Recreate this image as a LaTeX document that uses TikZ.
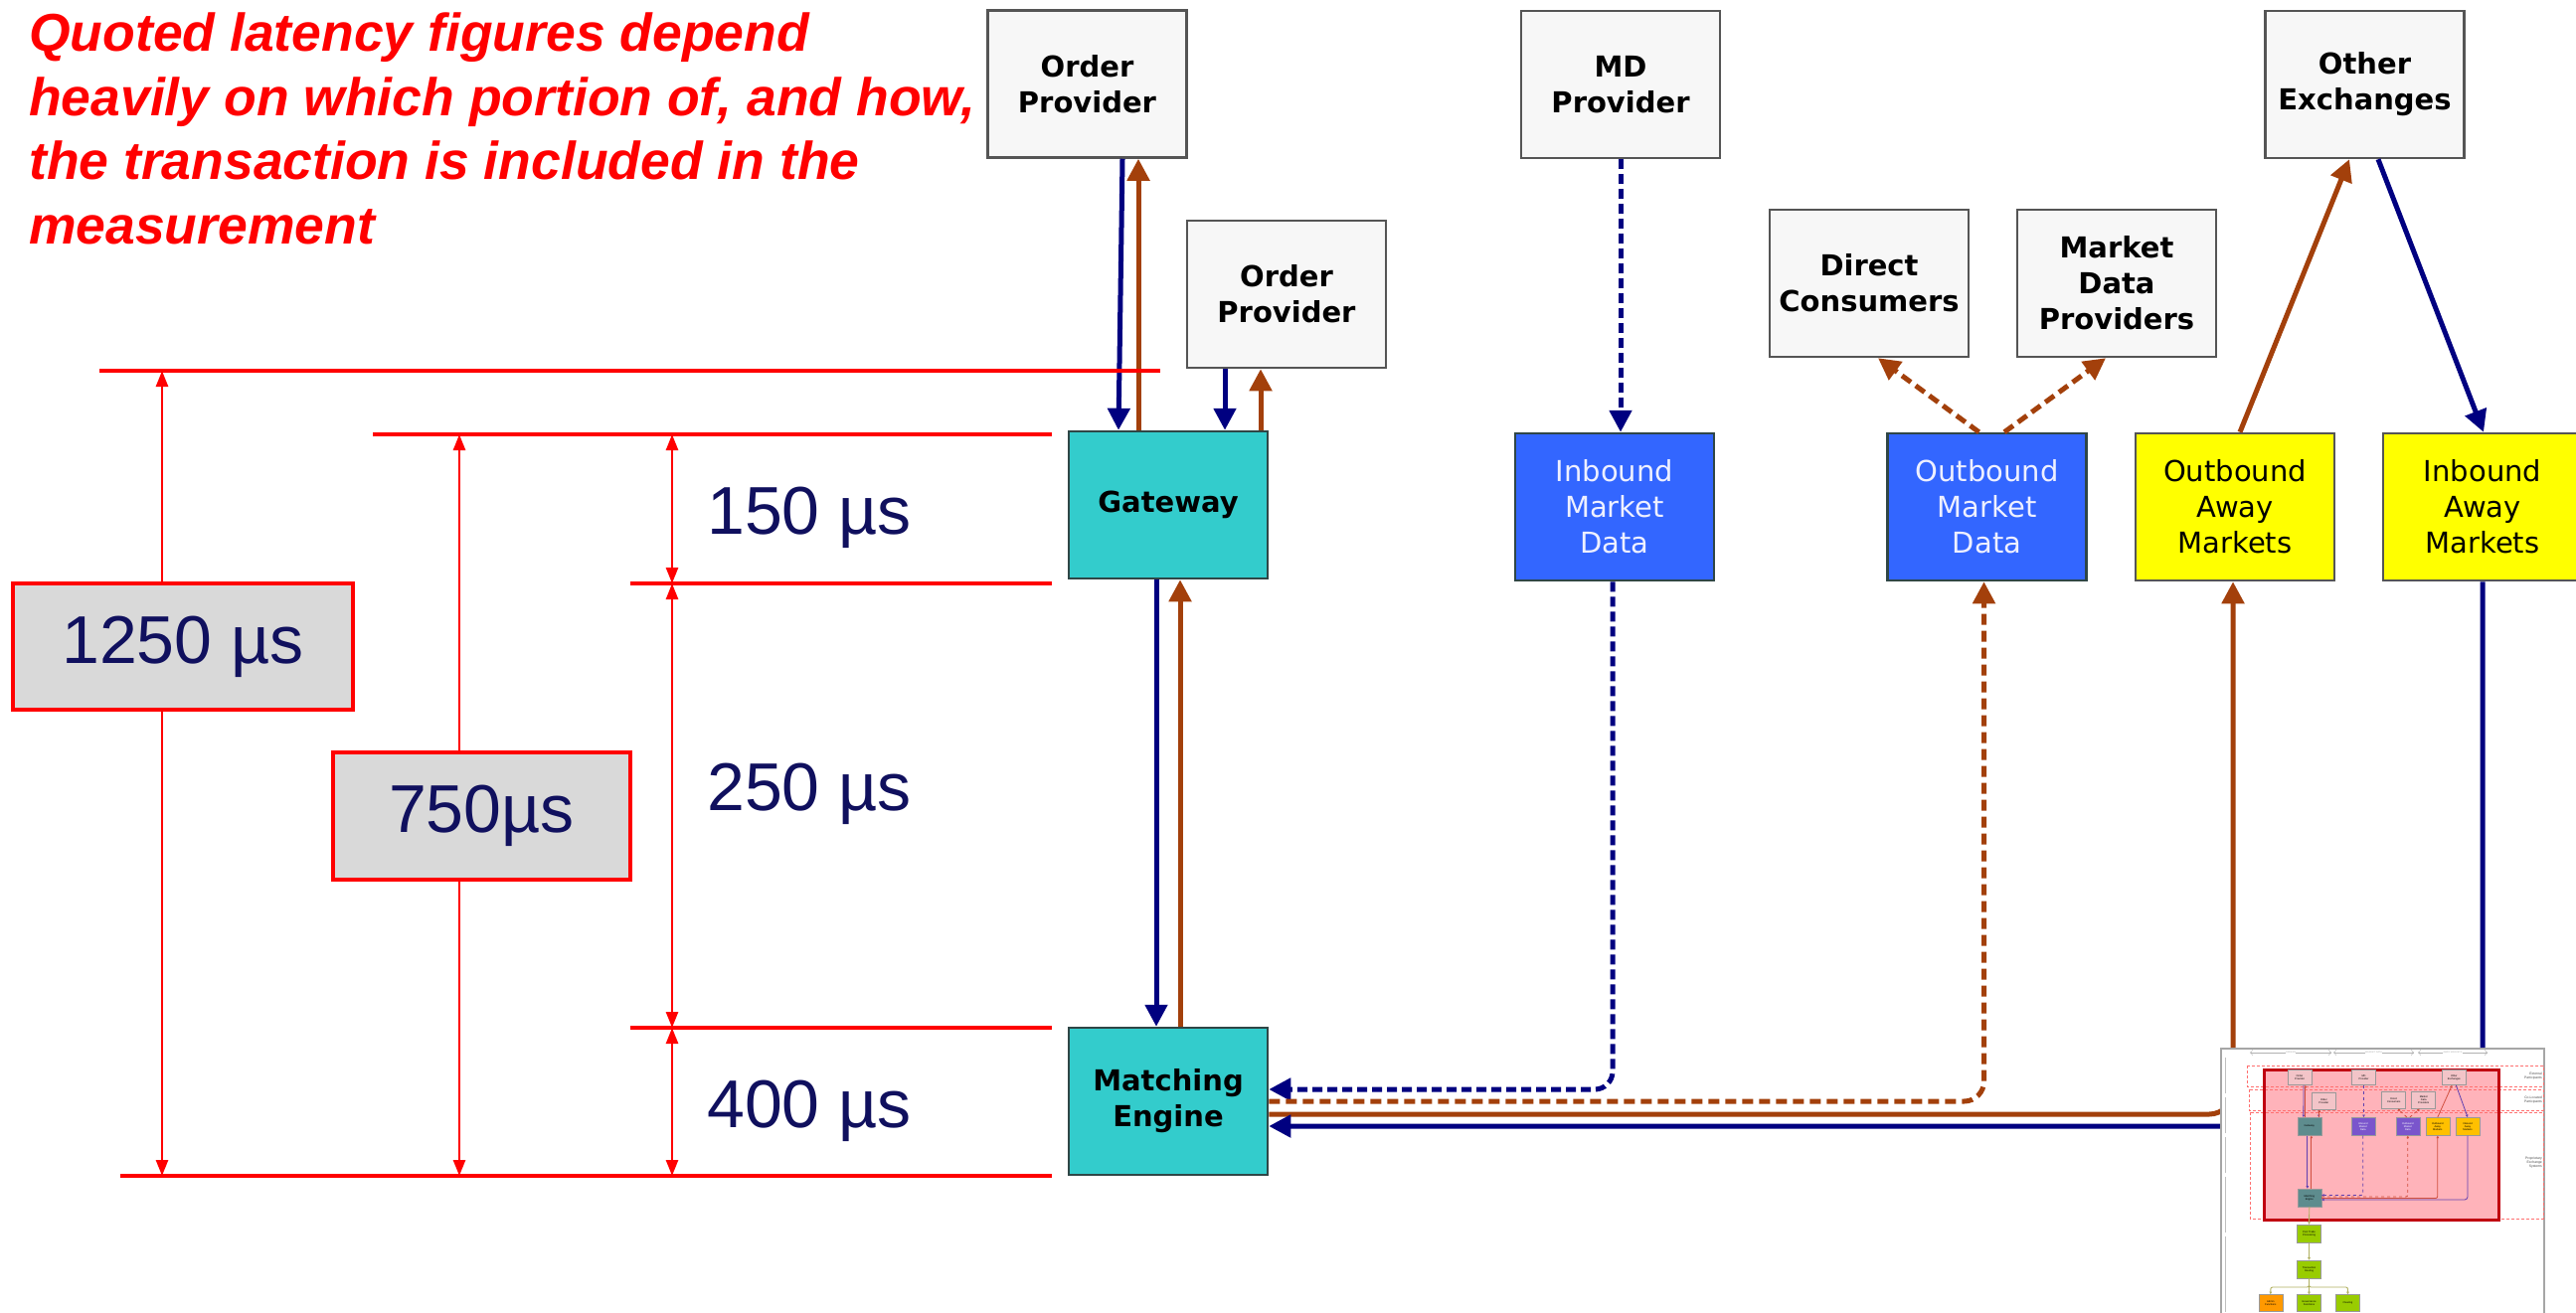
\documentclass[tikz,border=0pt]{standalone}
\usepackage{fontspec}
\setmainfont{Liberation Sans}
\newfontfamily\dvfont{DejaVu Sans}
\usetikzlibrary{arrows.meta}
\definecolor{navyc}{HTML}{000080}
\definecolor{brownc}{HTML}{A3400B}
\definecolor{boxgray}{HTML}{F7F7F7}
\definecolor{boxedge}{HTML}{555555}
\definecolor{darkedge}{HTML}{2F4646}
\definecolor{tealc}{HTML}{33CCCC}
\definecolor{bluebox}{HTML}{3366FF}
\definecolor{yellowc}{HTML}{FFFF00}
\definecolor{dimred}{HTML}{FF0000}
\definecolor{dimtext}{HTML}{10105E}
\definecolor{dimfill}{HTML}{D9D9D9}
\definecolor{lighttext}{HTML}{EEF0FF}
\definecolor{thpink}{HTML}{FFB3BA}
\definecolor{thred}{HTML}{C00010}
\definecolor{thdash}{HTML}{FF7070}
\definecolor{thgraybox}{HTML}{F3C4C8}
\definecolor{thteal}{HTML}{5E8C8E}
\definecolor{thpurple}{HTML}{7A55CC}
\definecolor{thorange}{HTML}{FFC000}
\definecolor{thgreen}{HTML}{99CC00}
\definecolor{thadmin}{HTML}{FF9900}
\definecolor{thline}{HTML}{6040B0}
\definecolor{thbrown}{HTML}{D05040}
\definecolor{tholive}{HTML}{B0B060}
\tikzset{
 fbox/.style={draw=boxedge, line width=2.5pt, minimum width=200pt, minimum height=148pt, inner sep=0pt, align=center},
 graybox/.style={fbox, fill=boxgray, font=\dvfont\bfseries\fontsize{29}{36}\selectfont},
 tealbox/.style={fbox, draw=darkedge, fill=tealc, font=\dvfont\bfseries\fontsize{29}{36}\selectfont},
 bluebx/.style={fbox, draw=darkedge, fill=bluebox, text=lighttext, font=\dvfont\fontsize{29}{36}\selectfont},
 yellowbx/.style={fbox, fill=yellowc, font=\dvfont\fontsize{29}{36}\selectfont},
 tip/.style={-{Triangle[length=22pt,width=22pt]}},
 navyarrow/.style={draw=navyc, line width=5pt, tip},
 brownarrow/.style={draw=brownc, line width=5pt, tip},
 navydash/.style={navyarrow, dash pattern=on 10pt off 5pt},
 browndash/.style={brownarrow, dash pattern=on 11pt off 6pt},
 dimline/.style={draw=dimred, line width=4pt},
 dimone/.style={draw=dimred, line width=2.5pt, -{Triangle[length=16pt,width=12pt]}},
 dimtwo/.style={draw=dimred, line width=2.5pt, {Triangle[length=16pt,width=12pt]}-{Triangle[length=16pt,width=12pt]}},
 dimbox/.style={draw=dimred, line width=3.5pt, fill=dimfill, text=dimtext, inner sep=0pt, font=\fontsize{68}{80}\selectfont},
 dimlabel/.style={text=dimtext, inner sep=0pt, anchor=base, font=\fontsize{68}{80}\selectfont},
 tb/.style={draw=gray!80, line width=0.6pt, minimum width=24pt, minimum height=17pt, inner sep=0pt, align=center, font=\fontsize{2.6}{3.1}\selectfont},
 tl/.style={draw=thline, line width=0.8pt, -{Triangle[length=2.5pt,width=2.5pt]}},
 tlb/.style={draw=thbrown, line width=0.8pt, -{Triangle[length=2.5pt,width=2.5pt]}},
 tlo/.style={draw=tholive, line width=0.9pt, -{Triangle[length=2.5pt,width=2.5pt]}},
 tlab/.style={font=\fontsize{3.4}{4}\selectfont, text=gray!60!black, inner sep=0pt, align=right, anchor=east},
}
\begin{document}
\begin{tikzpicture}[x=1pt, y=-1pt]
\useasboundingbox (0,0) rectangle (2591,1320);
\clip (0,0) rectangle (2591,1320);
\fill[white] (0,0) rectangle (2591,1320);

% title
\node[anchor=north west, align=left, inner sep=0pt, text=dimred,
      font=\bfseries\itshape\fontsize{53.5}{64.5}\selectfont] (title) at (29,13)
  {Quoted latency figures depend\\heavily on which portion of, and how,\\the transaction is included in the\\measurement};

% boxes
\node[graybox] (op1) at (1093.5,84.5) {Order\\Provider};
\node[graybox] (op2) at (1294,296) {Order\\Provider};
\node[graybox] (mdp) at (1630,85) {MD\\Provider};
\node[graybox] (dc) at (1880,285) {Direct\\Consumers};
\node[graybox] (mdprov) at (2129,285) {Market\\Data\\Providers};
\node[graybox] (oe) at (2378.5,85) {Other\\Exchanges};
\node[tealbox] (gw) at (1175,508) {Gateway};
\node[bluebx] (imd) at (1624,510) {Inbound\\Market\\Data};
\node[bluebx] (omd) at (1998.5,510) {Outbound\\Market\\Data};
\node[yellowbx] (oam) at (2248,510) {Outbound\\Away\\Markets};
\node[yellowbx] (iam) at (2497,510) {Inbound\\Away\\Markets};
\node[tealbox] (me) at (1175,1108) {Matching\\Engine};

% connectors
\draw[navyarrow] ([xshift=35.5pt]op1.south) -- ([xshift=-50pt]gw.north);
\draw[brownarrow] ([xshift=-30pt]gw.north) -- ([xshift=-30pt]gw.north |- op1.south);
\draw[navyarrow] ([xshift=-62pt]op2.south) -- ([xshift=-62pt]op2.south |- gw.north);
\draw[brownarrow] ([xshift=93pt]gw.north) -- ([xshift=93pt]gw.north |- op2.south);
\draw[navyarrow] ([xshift=-12pt]gw.south) -- ([xshift=-12pt]gw.south |- me.north);
\draw[brownarrow] ([xshift=12pt]me.north) -- ([xshift=12pt]me.north |- gw.south);
\draw[navydash] (mdp.south) -- (mdp.south |- imd.north);
\draw[navydash, rounded corners=18pt] ([xshift=-2pt]imd.south) |- ([yshift=12pt]me.east);
\draw[browndash, rounded corners=20pt] (me.east) -| ([xshift=-3pt]omd.south);
\draw[browndash] ([xshift=-8pt]omd.north) -- ([xshift=9pt]dc.south);
\draw[browndash] ([xshift=17.5pt]omd.north) -- ([xshift=-11pt]mdprov.south);
\draw[brownarrow, rounded corners=24pt] ([yshift=-13pt]me.east) -| ([xshift=-2pt]oam.south);
\draw[navyarrow, rounded corners=24pt] (iam.south) |- ([yshift=-25pt]me.east);
\draw[brownarrow] ([xshift=5pt]oam.north) -- ([xshift=-15.5pt]oe.south);
\draw[navyarrow] ([xshift=13.5pt]oe.south) -- ([xshift=1pt]iam.north);

% dimension lines
\coordinate (h1l) at (100,373);  \coordinate (h1r) at (1167,373);
\coordinate (h2l) at (375,437);  \coordinate (h2r) at (1058,437);
\coordinate (h3l) at (634,587);  \coordinate (h3r) at (1058,587);
\coordinate (h4l) at (634,1034); \coordinate (h4r) at (1058,1034);
\coordinate (h5l) at (121,1183); \coordinate (h5r) at (1058,1183);
\coordinate (ca) at (163,0); \coordinate (cb) at (462,0); \coordinate (cc) at (676,0);
\draw[dimline] (h1l) -- (h1r);
\draw[dimline] (h2l) -- (h2r);
\draw[dimline] (h3l) -- (h3r);
\draw[dimline] (h4l) -- (h4r);
\draw[dimline] (h5l) -- (h5r);

\node[dimbox, minimum width=342pt, minimum height=127pt] (b1250) at (184,650.5) {1250 µs};
\node[dimbox, minimum width=299pt, minimum height=128pt] (b750) at (484.5,821) {750µs};
\draw[dimone] (b1250.north -| ca) -- (h1l -| ca);
\draw[dimone] (b1250.south -| ca) -- (h5l -| ca);
\draw[dimone] (b750.north -| cb) -- (h2l -| cb);
\draw[dimone] (b750.south -| cb) -- (h5l -| cb);
\draw[dimtwo] (h2l -| cc) -- (h3l -| cc);
\draw[dimtwo] (h3l -| cc) -- (h4l -| cc);
\draw[dimtwo] (h4l -| cc) -- (h5l -| cc);
\node[dimlabel] (l150) at (814,537) {150 µs};
\node[dimlabel] (l250) at (814,815) {250 µs};
\node[dimlabel] (l400) at (814,1134) {400 µs};

% thumbnail overview
\draw[fill=white, draw=gray!70, line width=1.5pt] (2234,1055) rectangle (2559,1335);
\coordinate (ha1) at (2263,1059); \coordinate (ha2) at (2345,1059);
\coordinate (hb1) at (2347,1059); \coordinate (hb2) at (2428,1059);
\coordinate (hc1) at (2432,1059); \coordinate (hc2) at (2502,1059);
\draw[gray!60, line width=0.5pt, <->] (ha1) -- node[fill=white, inner sep=0.3pt, font=\fontsize{2.4}{3}\selectfont] {ORDERS} (ha2);
\draw[gray!60, line width=0.5pt, <->] (hb1) -- node[fill=white, inner sep=0.3pt, font=\fontsize{2.4}{3}\selectfont] {MARKET DATA} (hb2);
\draw[gray!60, line width=0.5pt, <->] (hc1) -- node[fill=white, inner sep=0.3pt, font=\fontsize{2.4}{3}\selectfont] {AWAY MARKETS} (hc2);
\foreach \ya/\yb in {1064/1100, 1104/1140, 1144/1180, 1184/1240, 1244/1320}
  \draw[gray!50, line width=0.5pt] (2238,\ya) -- (2238,\yb);
\fill[thpink] (2277,1076) rectangle (2513,1227);
\draw[thdash, line width=0.8pt, dash pattern=on 3pt off 2pt] (2260,1072) rectangle (2558,1093);
\draw[thdash, line width=0.8pt, dash pattern=on 3pt off 2pt] (2262,1096) rectangle (2558,1117);
\draw[thdash, line width=0.8pt, dash pattern=on 3pt off 2pt] (2263,1119) rectangle (2558,1226);
\draw[thred, line width=3pt] (2277,1076) rectangle (2513,1227);
\node[tlab] (tx1) at (2557,1083) {External\\Participants};
\node[tlab] (tx2) at (2557,1107) {Co-Located\\Participants};
\node[tlab] (tx3) at (2557,1170) {Proprietary\\Exchange\\Systems};

\node[tb, fill=thgraybox, minimum height=15pt] (top1) at (2313,1084) {Order\\Provider};
\node[tb, fill=thgraybox, minimum height=15pt] (tmd) at (2377.5,1084) {MD\\Provider};
\node[tb, fill=thgraybox, minimum height=15pt] (toe) at (2468.3,1084) {Other\\Exchanges};
\node[tb, fill=thgraybox] (top2) at (2337.3,1107.7) {Order\\Provider};
\node[tb, fill=thgraybox] (tdc) at (2407.7,1106.7) {Direct\\Consumers};
\node[tb, fill=thgraybox] (tmdp) at (2437.7,1106.7) {Market\\Data\\Providers};
\node[tb, fill=thteal, minimum height=18pt] (tgw) at (2322.8,1133.3) {Gateway};
\node[tb, fill=thpurple, minimum height=18pt, text=white] (timd) at (2376.8,1133.3) {Inbound\\Market\\Data};
\node[tb, fill=thpurple, minimum height=18pt, text=white] (tomd) at (2421.8,1133.3) {Outbound\\Market\\Data};
\node[tb, fill=thorange, minimum height=18pt] (toam) at (2451.8,1133.3) {Outbound\\Away\\Markets};
\node[tb, fill=thorange, minimum height=18pt] (tiam) at (2482,1133.3) {Inbound\\Away\\Markets};
\node[tb, fill=thteal, minimum height=18pt] (tme) at (2322.8,1205) {Matching\\Engine};
\node[tb, fill=thgreen, minimum height=18pt] (tptp) at (2322.5,1241.2) {Post Trade\\Processing};
\node[tb, fill=thgreen, minimum height=18pt] (ttr) at (2322.5,1277) {Transaction\\Routing};
\node[tb, fill=thadmin] (taf) at (2283.8,1311) {Admin\\Functions};
\node[tb, fill=thgreen] (tgf) at (2322.5,1311) {Governance\\Functions};
\node[tb, fill=thgreen] (tcl) at (2361.5,1311) {Clearing};

\draw[tl] ([xshift=4pt]top1.south) -- ([xshift=-6pt]tgw.north);
\draw[tlb] ([xshift=-4pt]tgw.north) -- ([xshift=-4pt]tgw.north |- top1.south);
\draw[tl] ([xshift=-5pt]top2.south) -- ([xshift=-5pt]top2.south |- tgw.north);
\draw[tlb] ([xshift=10pt]tgw.north) -- ([xshift=10pt]tgw.north |- top2.south);
\draw[tl] ([xshift=-2pt]tgw.south) -- ([xshift=-2pt]tgw.south |- tme.north);
\draw[tlb] ([xshift=2pt]tme.north) -- ([xshift=2pt]tme.north |- tgw.south);
\draw[tl, dashed] (tmd.south) -- (tmd.south |- timd.north);
\draw[tl, dashed, rounded corners=2pt] (timd.south) |- ([yshift=2.5pt]tme.east);
\draw[tlb, dashed, rounded corners=2pt] ([yshift=1pt]tme.east) -| (tomd.south);
\draw[tlb, rounded corners=2pt] ([yshift=-0.5pt]tme.east) -| (toam.south);
\draw[tl, rounded corners=3pt] (tiam.south) |- ([yshift=-2pt]tme.east);
\draw[tlb, dashed] ([xshift=-1pt]tomd.north) -- ([xshift=4pt]tdc.south);
\draw[tlb, dashed] ([xshift=2pt]tomd.north) -- ([xshift=-4pt]tmdp.south);
\draw[tlb] (toam.north) -- ([xshift=-2pt]toe.south);
\draw[tl] ([xshift=2pt]toe.south) -- (tiam.north);
\draw[tlo] (tme.south) -- (tptp.north);
\draw[tlo] (tptp.south) -- (ttr.north);
\coordinate (tbr) at (2322.5,1295);
\draw[tlo, rounded corners=2pt] (ttr.south) -- (tbr) -| (taf.north);
\draw[tlo] (ttr.south) -- (tgf.north);
\draw[tlo, rounded corners=2pt] (ttr.south) -- (tbr) -| (tcl.north);
\end{tikzpicture}
\end{document}
